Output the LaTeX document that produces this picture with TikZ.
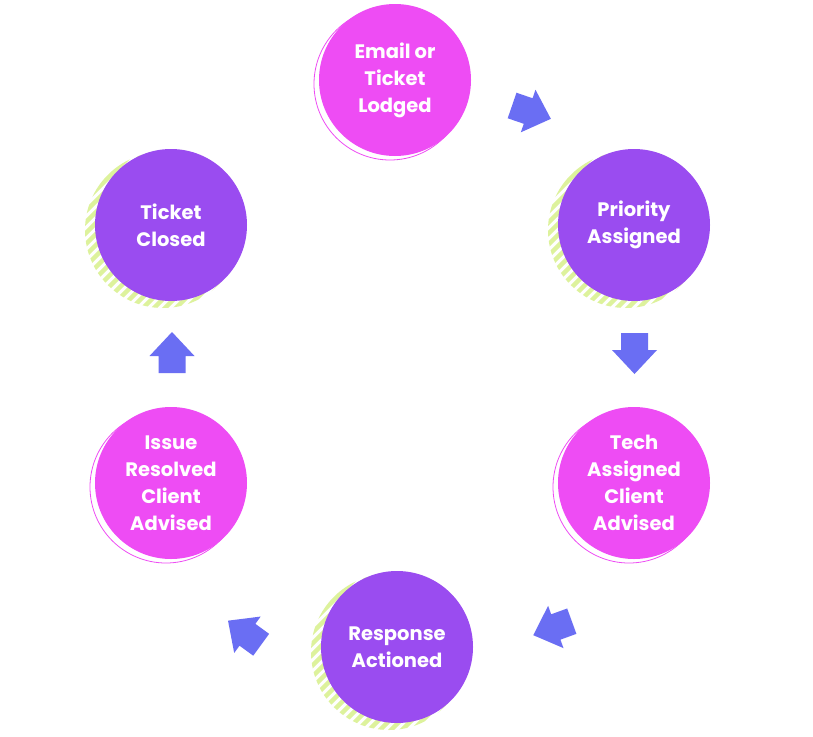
\documentclass[tikz,border=0pt]{standalone}
\usepackage{fontspec}
\setmainfont{Poppins}
\definecolor{pinkc}{HTML}{EE4CF4}
\definecolor{purplec}{HTML}{9A4CF0}
\definecolor{bluec}{HTML}{6A6EF3}
\definecolor{greenc}{HTML}{DDF29C}
\tikzset{
  stepcircle/.style={circle, minimum size=152pt, inner sep=0pt, text=white, align=center,
    font=\bfseries\fontsize{19.5}{27}\selectfont},
  pinkstep/.style={stepcircle, fill=pinkc},
  purplestep/.style={stepcircle, fill=purplec},
  ringline/.style={draw=pinkc, line width=0.8pt},
  stripeline/.style={draw=greenc, line width=4.5pt},
  blockarrow/.pic={\fill[bluec] (-20,-13.5) -- (-3,-13.5) -- (-3,-22.5) -- (21,0) -- (-3,22.5) -- (-3,13.5) -- (-20,13.5) -- cycle;}
}
\newcommand{\ringbehind}[2]{\draw[ringline] (#1-5,#2+4) circle[radius=76];}
\newcommand{\stripesbehind}[2]{%
  \begin{scope}
    \clip (#1-8,#2+5) circle[radius=78];
    \foreach \k in {-209,-198,...,209} {
      \draw[stripeline] (#1+\k-100,#2+100) -- (#1+\k+100,#2-100);
    }
  \end{scope}}
\begin{document}
\begin{tikzpicture}[x=1pt,y=-1pt]
\useasboundingbox (0,0) rectangle (813,736);
\fill[white] (0,0) rectangle (813,736);
% backgrounds
\ringbehind{395}{80}
\stripesbehind{634}{225}
\ringbehind{634}{483}
\stripesbehind{397}{647}
\ringbehind{171}{483}
\stripesbehind{171}{225}
% steps
\node[pinkstep] (email) at (395,80) {Email or\\Ticket\\Lodged};
\node[purplestep] (priority) at (634,225) {Priority\\Assigned};
\node[pinkstep] (tech) at (634,483) {Tech\\Assigned\\Client\\Advised};
\node[purplestep] (response) at (397,647) {Response\\Actioned};
\node[pinkstep] (issue) at (171,483) {Issue\\Resolved\\Client\\Advised};
\node[purplestep] (closed) at (171,225) {Ticket\\Closed};
% arrows
\pic[rotate=-19] at (531,112) {blockarrow};
\pic[rotate=-90] at (634.5,353) {blockarrow};
\pic[rotate=-160] at (553,628) {blockarrow};
\pic[rotate=144] at (245,633) {blockarrow};
\pic[rotate=90] at (172,353) {blockarrow};
\end{tikzpicture}
\end{document}
